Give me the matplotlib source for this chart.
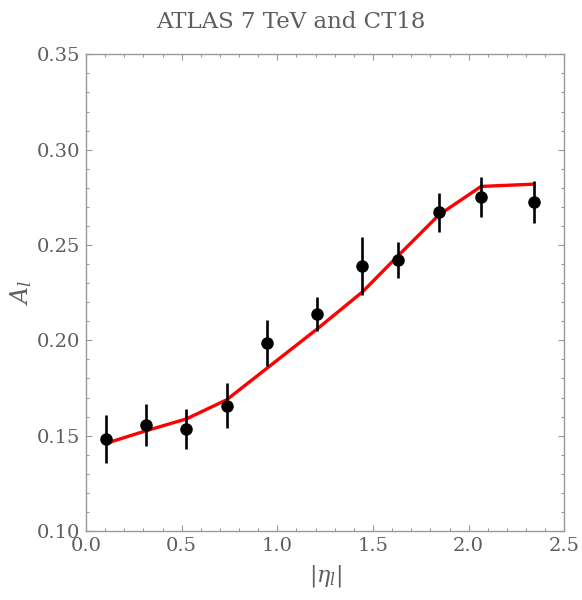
import matplotlib.pyplot as plt
import numpy as np
from matplotlib.ticker import MultipleLocator

# ATLAS 7 TeV lepton charge asymmetry, bin centres in |eta_l|
eta = [0.105, 0.315, 0.525, 0.735, 0.945, 1.21, 1.445, 1.63, 1.845, 2.065, 2.34]
asym_data = [0.1484, 0.1558, 0.1537, 0.1658, 0.1984, 0.2137, 0.2391, 0.2421, 0.2672, 0.2751, 0.2723]
asym_err = [0.0126, 0.0110, 0.0105, 0.0118, 0.0120, 0.0090, 0.0153, 0.0096, 0.0103, 0.0104, 0.0110]
# CT18 prediction at the same bin centres
asym_ct18 = [0.1460, 0.1526, 0.1588, 0.1688, 0.1853, 0.2061, 0.2254, 0.2442, 0.2658, 0.2807, 0.2819]

TXT = "#5e5e5e"
FRAME = "#999999"

plt.rcParams["font.family"] = ["DejaVu Serif"]
plt.rcParams["mathtext.fontset"] = "dejavuserif"

fig = plt.figure(figsize=(5.82, 6.0), dpi=100)
ax = fig.add_axes([86 / 582, 1 - 531 / 600, (564.3 - 86) / 582, (531 - 54.3) / 600])

ax.plot(eta, asym_ct18, color="red", lw=2.4, zorder=2)
ax.errorbar(eta, asym_data, yerr=asym_err, fmt="o", color="black",
            ms=8, elinewidth=1.9, capsize=0, zorder=3)

ax.set_xlim(0, 2.5)
ax.set_ylim(0.10, 0.35)
ax.xaxis.set_major_locator(MultipleLocator(0.5))
ax.xaxis.set_minor_locator(MultipleLocator(0.1))
ax.yaxis.set_major_locator(MultipleLocator(0.05))
ax.yaxis.set_minor_locator(MultipleLocator(0.01))
ax.xaxis.set_major_formatter(plt.FuncFormatter(lambda v, p: f"{v:.1f}"))
ax.yaxis.set_major_formatter(plt.FuncFormatter(lambda v, p: f"{v:.2f}"))

ax.tick_params(which="both", direction="in", top=True, right=True,
               color=FRAME, labelcolor=TXT, labelsize=14, width=0.8)
ax.tick_params(which="major", length=4, pad=4)
ax.tick_params(which="minor", length=2)
for s in ax.spines.values():
    s.set_color(FRAME)
    s.set_linewidth(1.0)

ax.set_xlabel(r"$|\eta_l|$", color=TXT, fontsize=16, labelpad=6)
ax.set_ylabel(r"$A_l$", color=TXT, fontsize=17, labelpad=2)
# title is centred on the whole image, not on the frame
fig.text(0.5, 1 - 22 / 600, "ATLAS 7 TeV and CT18", color=TXT, fontsize=16.5,
         ha="center", va="center")

fig.savefig("out.png", dpi=100)
